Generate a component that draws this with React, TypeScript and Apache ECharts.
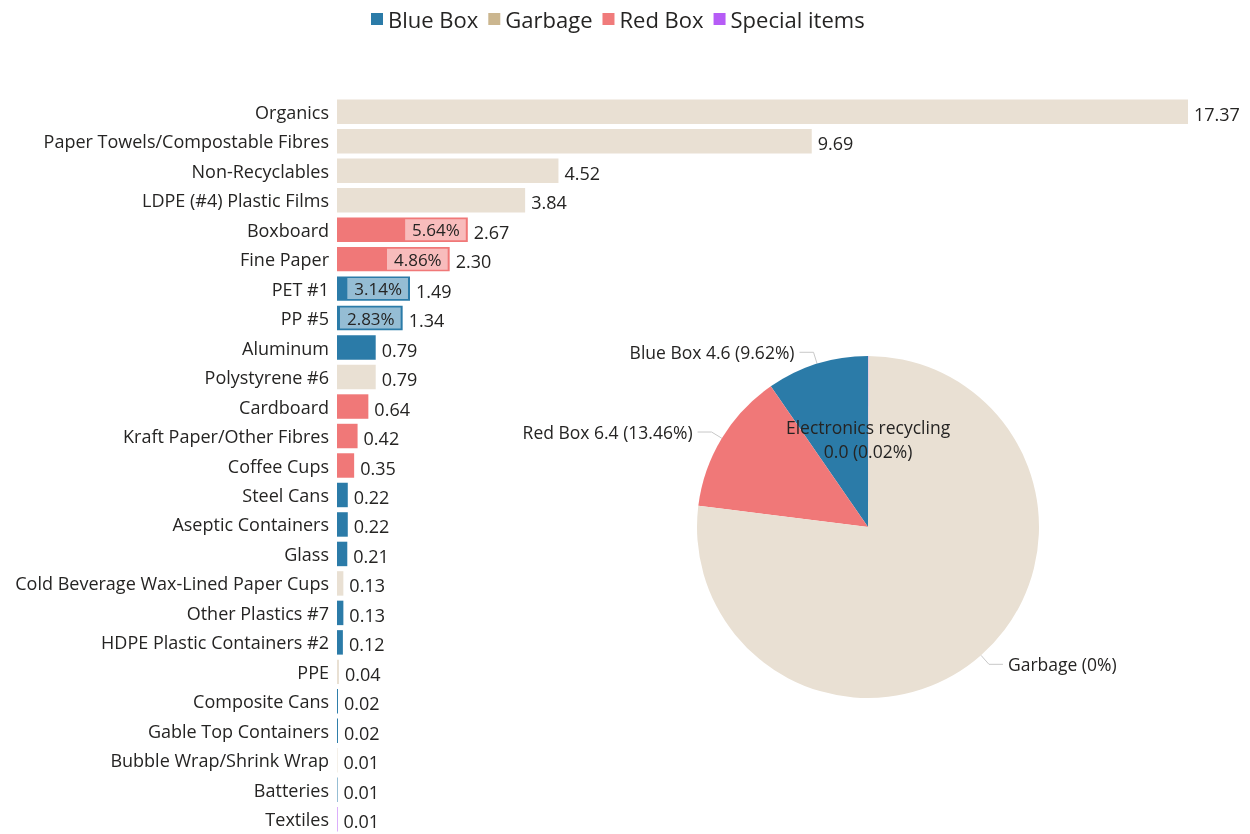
import React, { useEffect, useRef } from "react";
import * as echarts from "echarts";

const categories = [
  "Organics",
  "Paper Towels/Compostable Fibres",
  "Non-Recyclables",
  "LDPE (#4) Plastic Films",
  "Boxboard",
  "Fine Paper",
  "PET #1",
  "PP #5",
  "Aluminum",
  "Polystyrene #6",
  "Cardboard",
  "Kraft Paper/Other Fibres",
  "Coffee Cups",
  "Steel Cans",
  "Aseptic Containers",
  "Glass",
  "Cold Beverage Wax-Lined Paper Cups",
  "Other Plastics #7",
  "HDPE Plastic Containers #2",
  "PPE",
  "Composite Cans",
  "Gable Top Containers",
  "Bubble Wrap/Shrink Wrap",
  "Batteries",
  "Textiles",
];

const values = [
  17.37, 9.69, 4.52, 3.84, 2.67, 2.3, 1.49, 1.34, 0.79, 0.79, 0.64, 0.42, 0.35,
  0.22, 0.22, 0.21, 0.13, 0.13, 0.12, 0.04, 0.02, 0.02, 0.01, 0.01, 0.01,
];

const streams = [
  "Garbage", "Garbage", "Garbage", "Garbage", "Red Box", "Red Box", "Blue Box",
  "Blue Box", "Blue Box", "Garbage", "Red Box", "Red Box", "Red Box", "Blue Box",
  "Blue Box", "Blue Box", "Garbage", "Blue Box", "Blue Box", "Garbage", "Blue Box",
  "Blue Box", "Garbage", "Blue Box", "Special items",
];

const shareLabels = [
  "", "", "", "", "5.64%", "4.86%", "3.14%", "2.83%", "", "", "", "", "", "", "",
  "", "", "", "", "", "", "", "", "", "",
];

const legendNames = ["Blue Box", "Garbage", "Red Box", "Special items"];
const legendColors = ["#2B7BA8", "#CBB68F", "#F07B7B", "#B65CF6"];
const barColors = ["#2B7BA8", "#E9E0D3", "#F07878", "#B65CF6"];

const pieNames = ["Blue Box", "Red Box", "Garbage", "Electronics recycling"];
const pieValues = [4.6, 6.4, 36.8, 0.01];
const pieLabels = [
  "Blue Box 4.6 (9.62%)",
  "Red Box 6.4 (13.46%)",
  "Garbage (0%)",
  "Electronics recycling\n0.0 (0.02%)",
];
const pieColors = ["#2B7BA8", "#F07878", "#E9E0D3", "#B65CF6"];

const FONT = "'Open Sans', 'Noto Sans', sans-serif";
const TEXT = "#252423";

export default function App() {
  const ref = useRef<HTMLDivElement>(null);

  useEffect(() => {
    if (!ref.current) return;
    const chart = echarts.init(ref.current, undefined, { renderer: "svg" });

    const groupSeries = legendNames.map((name, gi) => ({
      name,
      type: "bar",
      barGap: "-100%",
      barCategoryGap: "17%",
      itemStyle: { color: barColors[gi] },
      data: values.map((v, i) => {
        if (streams[i] !== name) return "-";
        if (shareLabels[i]) {
          return {
            value: v,
            label: {
              show: true,
              position: "insideRight",
              distance: 2,
              formatter: shareLabels[i],
              fontFamily: FONT,
              fontSize: 17,
              lineHeight: 20,
              color: TEXT,
              backgroundColor: "rgba(255,255,255,0.5)",
              padding: [1, 6, 0, 7],
            },
          };
        }
        return v;
      }),
    }));

    const valueSeries = {
      name: "values",
      type: "bar",
      barGap: "-100%",
      barCategoryGap: "17%",
      itemStyle: { color: "rgba(0,0,0,0)" },
      silent: true,
      label: {
        show: true,
        position: "right",
        distance: 6,
        offset: [0, 2],
        fontFamily: FONT,
        fontSize: 18,
        color: TEXT,
        formatter: (p: any) => Number(p.value).toFixed(2),
      },
      data: values,
    };

    const pieSeries = {
      name: "stream",
      type: "pie",
      center: [868, 527],
      radius: 171,
      startAngle: 90,
      clockwise: false,
      avoidLabelOverlap: false,
      label: {
        show: true,
        fontFamily: FONT,
        fontSize: 17.5,
        color: TEXT,
        formatter: (p: any) => pieLabels[p.dataIndex],
      },
      labelLine: { length: 12, length2: 14, lineStyle: { color: "#C8C8C8" } },
      data: pieNames.map((n, i) => ({
        name: n,
        value: pieValues[i],
        itemStyle: { color: pieColors[i] },
        label:
          i === 3
            ? { position: "inside", lineHeight: 24 }
            : undefined,
      })),
    };

    chart.setOption({
      animation: false,
      textStyle: { fontFamily: FONT },
      legend: {
        top: 3,
        left: 366,
        icon: "rect",
        itemWidth: 12,
        itemHeight: 12,
        itemGap: 10,
        textStyle: { fontFamily: FONT, fontSize: 22, color: TEXT },
        data: legendNames.map((n, i) => ({
          name: n,
          itemStyle: { color: legendColors[i] },
        })),
      },
      grid: { left: 337, right: 62, top: 97, height: 740, containLabel: false },
      xAxis: {
        type: "value",
        min: 0,
        max: 17.37,
        show: false,
      },
      yAxis: {
        type: "category",
        inverse: true,
        data: categories,
        axisLine: { show: false },
        axisTick: { show: false },
        axisLabel: { fontFamily: FONT, fontSize: 18, color: TEXT, margin: 8 },
      },
      series: [...groupSeries, valueSeries, pieSeries],
    });

    return () => chart.dispose();
  }, []);

  return (
    <div
      ref={ref}
      style={{ position: "fixed", left: 0, top: 0, width: 1250, height: 834 }}
    />
  );
}
